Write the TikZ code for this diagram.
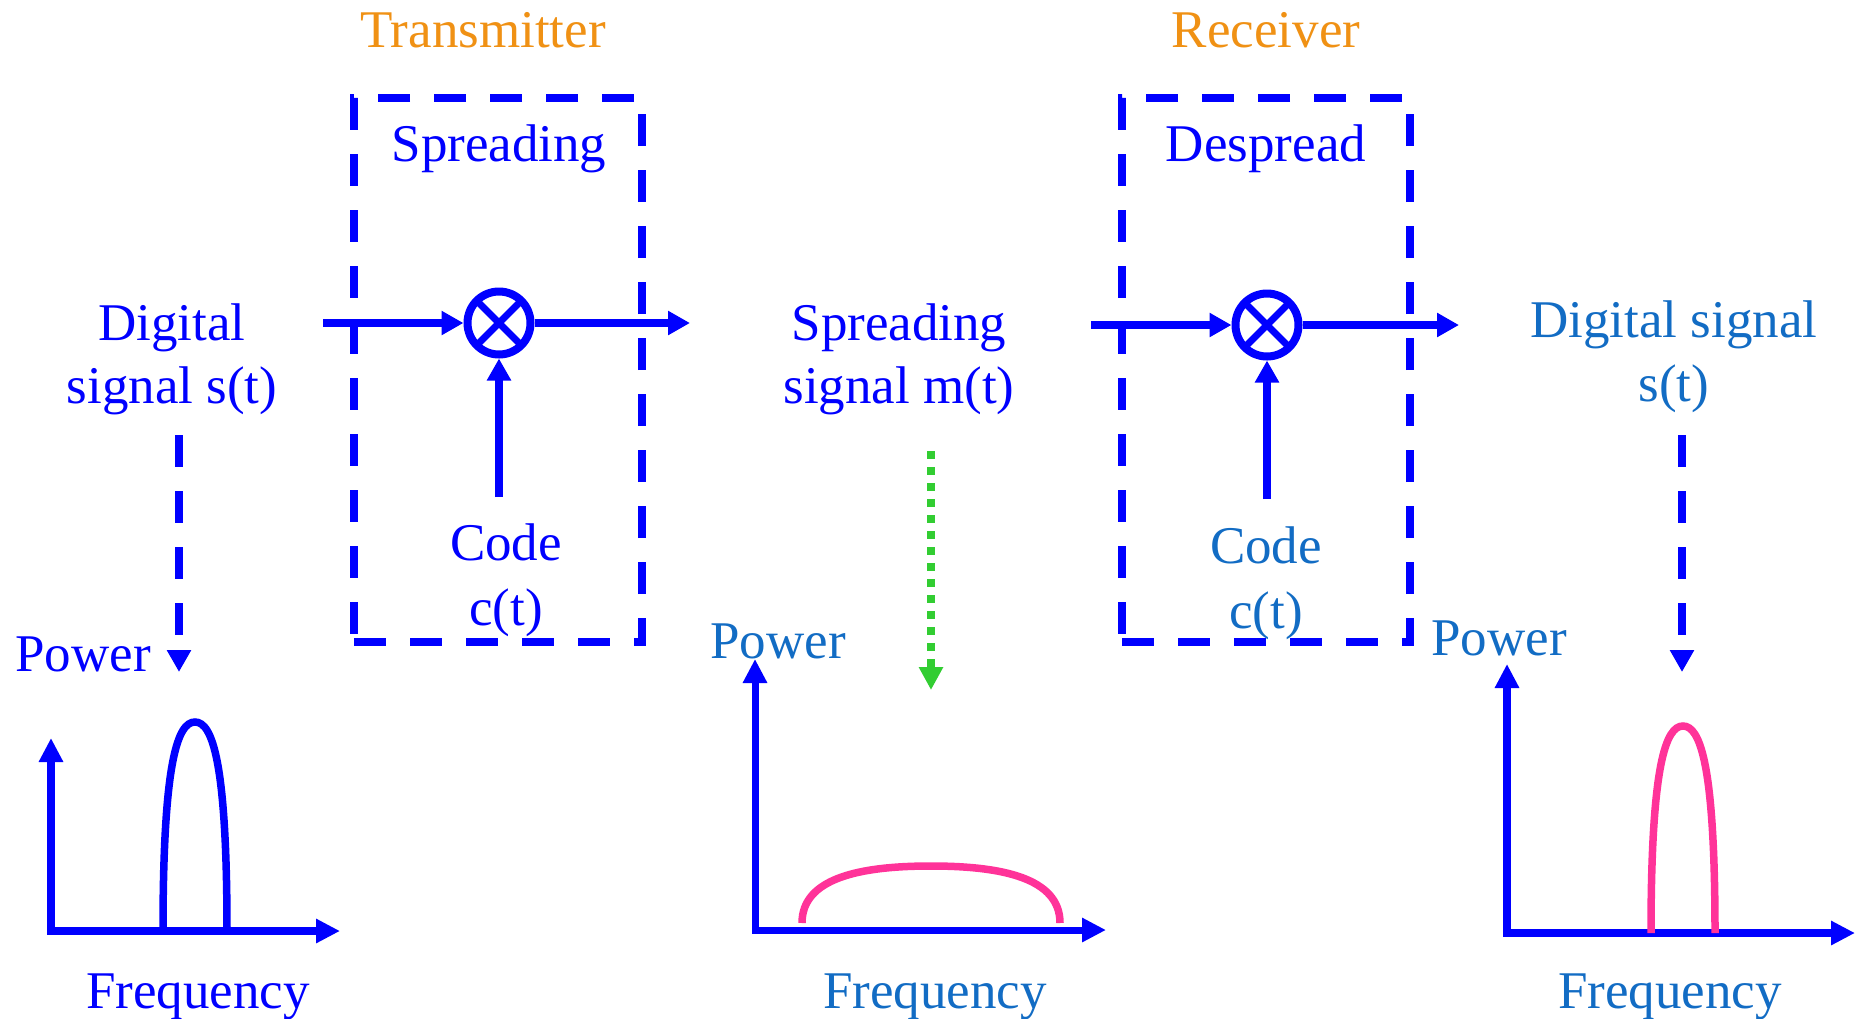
\documentclass[tikz,border=0pt]{standalone}
\usepackage{fontspec}
\setmainfont{Liberation Serif}
\usetikzlibrary{arrows.meta}
\definecolor{pblue}{RGB}{0,0,255}
\definecolor{tblue}{RGB}{18,108,196}
\definecolor{orng}{RGB}{240,145,20}
\definecolor{pink}{RGB}{255,51,153}
\definecolor{grn}{RGB}{50,205,50}
\begin{document}
\begin{tikzpicture}[x=1pt,y=-1pt,
  lbl/.style={font=\fontsize{53}{64}\selectfont, inner sep=0pt, anchor=base, text=pblue},
  lbl2/.style={lbl, text=tblue},
  ttl/.style={lbl, text=orng},
  dbox/.style={draw=pblue, line width=8pt, dash pattern=on 32pt off 24pt, minimum width=288pt, minimum height=544pt, inner sep=0pt},
  mult/.style={circle, draw=pblue, line width=8pt, minimum size=63pt, inner sep=0pt,
     path picture={\draw[pblue, line width=7pt] (path picture bounding box.north west) -- (path picture bounding box.south east)
                   (path picture bounding box.north east) -- (path picture bounding box.south west);}},
  sig/.style={draw=pblue, line width=7.5pt, -{Triangle[length=22pt,width=23pt]}},
  axis/.style={draw=pblue, line width=8pt, line join=miter, {Triangle[length=24pt,width=23pt]}-{Triangle[length=24pt,width=23pt]}},
  darr/.style={draw=pblue, line width=8pt, dash pattern=on 32pt off 24pt, -{Triangle[length=22pt,width=23pt]}},
  garr/.style={draw=grn, line width=8pt, dash pattern=on 8pt off 8pt, -{Triangle[length=23pt,width=23pt]}},
  spec/.style={line width=7.5pt, line cap=butt}
]
\useasboundingbox (0,0) rectangle (1855,1018);
\fill[white] (0,0) rectangle (1855,1018);

% titles
\node[ttl] (tx) at (483,47) {Transmitter};
\node[ttl] (rx) at (1266,47) {Receiver};

% boxes
\node[dbox] (tbox) at (498,370) {};
\node[dbox] (rbox) at (1266,370) {};
\node[lbl] (spr) at (499,161) {Spreading};
\node[lbl] (desp) at (1266,161) {Despread};

% multipliers
\node[mult] (m1) at (499,323) {};
\node[mult] (m2) at (1267,325) {};

% labels
\node[lbl] (dig1) at (172,340) {Digital};
\node[lbl] (dig2) at (172,403) {signal s(t)};
\node[lbl] (ss1) at (899,340) {Spreading};
\node[lbl] (ss2) at (899,403) {signal m(t)};
\node[lbl2] (rd1) at (1674,337) {Digital signal};
\node[lbl2] (rd2) at (1674,401) {s(t)};
\node[lbl] (tc1) at (506,560) {Code};
\node[lbl] (tc2) at (506,625) {c(t)};
\node[lbl2] (rc1) at (1266,563) {Code};
\node[lbl2] (rc2) at (1266,628) {c(t)};
\node[lbl] (pw1) at (83,671) {Power};
\node[lbl2] (pw2) at (778,658) {Power};
\node[lbl2] (pw3) at (1499,655) {Power};
\node[lbl] (fq1) at (198,1008) {Frequency};
\node[lbl2] (fq2) at (935,1008) {Frequency};
\node[lbl2] (fq3) at (1670,1008) {Frequency};

% signal arrows
\coordinate (tin) at (323,323);
\coordinate (tout) at (690,323);
\coordinate (tcode) at (499,497);
\draw[sig] (tin) -- (m1);
\draw[sig] (m1) -- (tout);
\draw[sig] (tcode) -- (m1);
\coordinate (rin) at (1091,325);
\coordinate (rout) at (1459,325);
\coordinate (rcode) at (1267,499);
\draw[sig] (rin) -- (m2);
\draw[sig] (m2) -- (rout);
\draw[sig] (rcode) -- (m2);

% dashed / dotted arrows
\coordinate (la) at (179,435); \coordinate (lb) at (179,672);
\draw[darr] (la) -- (lb);
\coordinate (ra) at (1682,435); \coordinate (rb) at (1682,672);
\draw[darr] (ra) -- (rb);
\coordinate (ga) at (931,451); \coordinate (gb) at (931,690);
\draw[garr] (ga) -- (gb);

% spectra axes
\coordinate (o1) at (51,931); \coordinate (y1) at (51,738); \coordinate (x1) at (340,931);
\draw[axis] (y1) -- (o1) -- (x1);
\coordinate (o2) at (755,930); \coordinate (y2) at (755,659); \coordinate (x2) at (1106,930);
\draw[axis, line width=7pt] (y2) -- (o2) -- (x2);
\coordinate (o3) at (1507,933); \coordinate (y3) at (1507,664); \coordinate (x3) at (1855,933);
\draw[axis] (y3) -- (o3) -- (x3);

% spectra
\draw[spec, pblue] (163,931) .. controls (163,760) and (178,722) .. (195,722) .. controls (212,722) and (227,760) .. (227,931);
\draw[spec, pink] (802,923) .. controls (802,878) and (860,866) .. (931,866) .. controls (1002,866) and (1060,878) .. (1060,923);
\draw[spec, pink] (1651,933) .. controls (1651,764) and (1666,726) .. (1683,726) .. controls (1700,726) and (1715,764) .. (1715,933);
\end{tikzpicture}
\end{document}
